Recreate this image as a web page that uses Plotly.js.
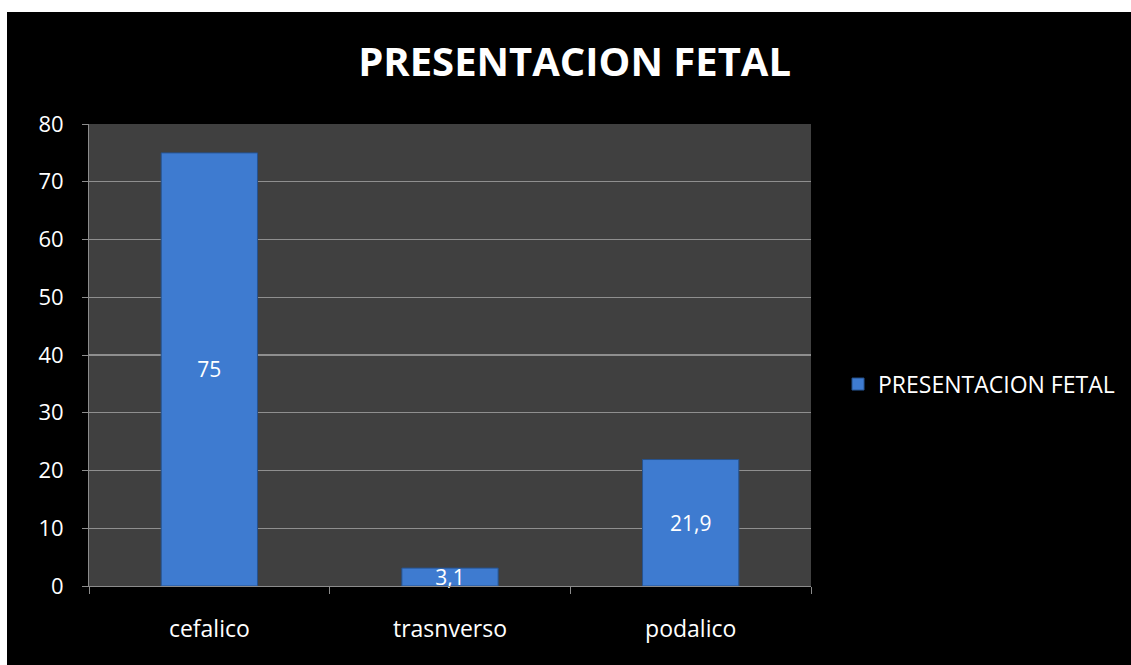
<!DOCTYPE html>
<html>
<head>
<meta charset="utf-8">
<script src="https://cdn.plot.ly/plotly-3.0.1.min.js"></script>
<style>
html,body{margin:0;padding:0;background:#ffffff;width:1131px;height:665px;overflow:hidden;}
#chart{position:absolute;left:7px;top:12px;width:1124px;height:653px;}
</style>
</head>
<body>
<div id="chart"></div>
<script>
const categories = ["cefalico", "trasnverso", "podalico"];
const values = [75, 3.1, 21.9];
const seriesName = "PRESENTACION FETAL";
const chartTitle = "PRESENTACION FETAL";
const yTicks = [0, 10, 20, 30, 40, 50, 60, 70, 80];

const fontFam = "Open Sans, Liberation Sans, sans-serif";

const trace = {
  type: "bar",
  x: categories,
  y: values,
  name: seriesName,
  width: 0.4,
  marker: {color: "#3e7bd0", line: {color: "#26538f", width: 1}},
  texttemplate: "%{y}",
  textposition: "inside",
  insidetextanchor: "middle",
  constraintext: "none",
  cliponaxis: false,
  textfont: {color: "#ffffff", size: 21, family: fontFam},
  showlegend: true,
  hoverinfo: "none"
};

const layout = {
  width: 1124, height: 653,
  paper_bgcolor: "#000000",
  plot_bgcolor: "#404040",
  separators: ",.",
  margin: {l: 82, r: 319, t: 112, b: 79},
  title: {
    text: "<b>" + chartTitle + "</b>",
    font: {family: fontFam, size: 40, color: "#ffffff"},
    x: 0.505, xref: "container", xanchor: "center",
    y: 0.924, yref: "container", yanchor: "middle"
  },
  xaxis: {
    type: "category",
    tickson: "boundaries",
    ticks: "outside", ticklen: 7, tickcolor: "#8c8c8c", tickwidth: 1,
    showline: true, linecolor: "#8c8c8c", linewidth: 1,
    showgrid: false,
    tickfont: {family: fontFam, size: 23, color: "#ffffff"},
    ticklabelstandoff: 22
  },
  yaxis: {
    range: [0, 80],
    tickvals: yTicks,
    ticks: "outside", ticklen: 6, tickcolor: "#8c8c8c", tickwidth: 1,
    showline: true, linecolor: "#8c8c8c", linewidth: 1,
    showgrid: true, gridcolor: "#8f8f8f", gridwidth: 1.3,
    zeroline: false,
    tickfont: {family: fontFam, size: 22, color: "#ffffff"},
    ticklabelstandoff: 14
  },
  showlegend: true,
  legend: {
    x: 1.036, xanchor: "left", y: 0.437, yanchor: "middle",
    font: {family: fontFam, size: 23, color: "#ffffff"},
    bgcolor: "rgba(0,0,0,0)"
  }
};

Plotly.newPlot("chart", [trace], layout, {displayModeBar: false, staticPlot: true});
</script>
</body>
</html>
